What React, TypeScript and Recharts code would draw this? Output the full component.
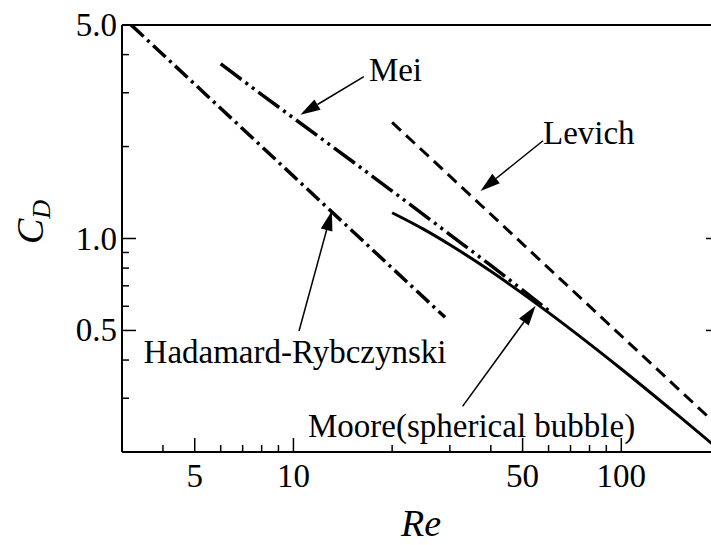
import { ComposedChart, Line, XAxis, YAxis, ReferenceLine } from 'recharts';

// Drag coefficient vs Reynolds number (log-log)
const hrRe = [3.2, 29];
const hrCd = [5.0, 0.552];

const meiRe = [6, 8, 10, 15, 20, 30, 40, 50, 60];
const meiCd = [3.73, 2.96, 2.48, 1.8, 1.43, 1.03, 0.816, 0.678, 0.581];

const levichRe = [20, 200];
const levichCd = [2.4, 0.24];

const mooreRe = [20, 25, 30, 40, 50, 60, 80, 100, 150, 200];
const mooreCd = [1.214, 1.071, 0.954, 0.781, 0.66, 0.572, 0.452, 0.374, 0.262, 0.2025];

const xTicks = [4, 5, 6, 7, 8, 9, 10, 20, 30, 40, 50, 60, 70, 80, 90, 100, 200];
const xMajor = [5, 10, 50, 100];
const xLabels = ['5', '10', '50', '100'];

const yTicks = [0.3, 0.4, 0.5, 0.6, 0.7, 0.8, 0.9, 1, 2, 3, 4, 5];
const yMajor = [0.5, 1, 5];
const yLabels = ['0.5', '1.0', '5.0'];

// arrow tail -> tip, in (Re, C_D)
const arrows = [
  { name: 'Mei', tail: [16.4, 3.39], tip: [10.5, 2.54] },
  { name: 'Levich', tail: [57.7, 2.09], tip: [37.2, 1.43] },
  { name: 'Hadamard-Rybczynski', tail: [10.4, 0.498], tip: [13.1, 1.233] },
  { name: 'Moore(spherical bubble)', tail: [32.8, 0.282], tip: [54.8, 0.602] },
];

const toRows = (xs: number[], ys: number[]) => xs.map((re, i) => ({ re, cd: ys[i] }));

const FONT = '"Liberation Serif", "Times New Roman", serif';
const FS = 33;
const TITLE_FS = 38;

// where each label sits relative to the arrow tail
const labelPos: Record<string, { dx: number; dy: number; anchor: string }> = {
  Mei: { dx: 5, dy: 4, anchor: 'start' },
  Levich: { dx: 0, dy: 3, anchor: 'start' },
  'Hadamard-Rybczynski': { dx: -4, dy: 32, anchor: 'middle' },
  'Moore(spherical bubble)': { dx: 9, dy: 31, anchor: 'middle' },
};

const makeArrow = (name: string) => (p: any) => {
  const { x1, y1, x2, y2 } = p;
  const ang = Math.atan2(y2 - y1, x2 - x1);
  const len = 20;
  const hw = 6;
  const bx = x2 - len * Math.cos(ang);
  const by = y2 - len * Math.sin(ang);
  const nx = -Math.sin(ang) * hw;
  const ny = Math.cos(ang) * hw;
  const lp = labelPos[name];
  return (
    <g>
      <line x1={x1} y1={y1} x2={bx} y2={by} stroke="#000" strokeWidth={1.5} />
      <polygon points={`${x2},${y2} ${bx + nx},${by + ny} ${bx - nx},${by - ny}`} fill="#000" />
      <text x={x1 + lp.dx} y={y1 + lp.dy} textAnchor={lp.anchor as any} fontFamily={FONT} fontSize={FS} fill="#000">
        {name}
      </text>
    </g>
  );
};

const BottomTick = ({ x, y, payload }: any) => {
  const i = xMajor.indexOf(payload.value);
  const len = i >= 0 ? 14 : 7;
  return (
    <g>
      <line x1={x} y1={y} x2={x} y2={y - len} stroke="#000" strokeWidth={1.5} />
      {i >= 0 && (
        <text x={x} y={y + 35} textAnchor="middle" fontFamily={FONT} fontSize={FS} fill="#000">
          {xLabels[i]}
        </text>
      )}
    </g>
  );
};

const TopTick = ({ x, y, payload }: any) => {
  const len = xMajor.includes(payload.value) ? 14 : 7;
  return <line x1={x} y1={y} x2={x} y2={y + len} stroke="#000" strokeWidth={1.5} />;
};

const LeftTick = ({ x, y, payload }: any) => {
  const i = yMajor.indexOf(payload.value);
  const len = i >= 0 ? 14 : 7;
  return (
    <g>
      <line x1={x} y1={y} x2={x + len} y2={y} stroke="#000" strokeWidth={1.5} />
      {i >= 0 && (
        <text x={x - 5} y={y + 11} textAnchor="end" fontFamily={FONT} fontSize={FS} fill="#000">
          {yLabels[i]}
        </text>
      )}
    </g>
  );
};

const RightTick = ({ x, y, payload }: any) => {
  const len = yMajor.includes(payload.value) ? 14 : 7;
  return <line x1={x} y1={y} x2={x - len} y2={y} stroke="#000" strokeWidth={1.5} />;
};

const axisLine = { stroke: '#000', strokeWidth: 2 };

export default function App() {
  return (
    <div style={{ position: 'fixed', left: 0, top: 0, width: 711, height: 545, overflow: 'hidden', background: '#fff' }}>
      <ComposedChart width={800} height={545} margin={{ top: 20, right: 20, bottom: 63, left: 62 }}>
        <XAxis
          dataKey="re"
          type="number"
          scale="log"
          domain={[3, 200]}
          allowDataOverflow
          ticks={xTicks}
          interval={0}
          height={30}
          tickSize={0}
          tickMargin={0}
          tickLine={false}
          axisLine={axisLine}
          tick={<BottomTick />}
          label={{
            content: () => (
              <text x={421} y={536} textAnchor="middle" fontFamily={FONT} fontSize={TITLE_FS} fontStyle="italic" fill="#000">
                Re
              </text>
            ),
          }}
        />
        <XAxis
          xAxisId="top"
          orientation="top"
          type="number"
          scale="log"
          domain={[3, 200]}
          allowDataOverflow
          ticks={xTicks}
          interval={0}
          height={5}
          tickSize={0}
          tickMargin={0}
          tickLine={false}
          axisLine={axisLine}
          tick={<TopTick />}
        />
        <YAxis
          type="number"
          scale="log"
          domain={[0.2, 5]}
          allowDataOverflow
          ticks={yTicks}
          interval={0}
          width={60}
          tickSize={0}
          tickMargin={0}
          tickLine={false}
          axisLine={axisLine}
          tick={<LeftTick />}
          label={{
            content: () => (
              <text
                transform="rotate(-90)"
                x={-244}
                y={43}
                textAnchor="start"
                fontFamily={FONT}
                fontSize={TITLE_FS}
                fontStyle="italic"
                fill="#000"
              >
                C<tspan fontSize={26} dy={7}>D</tspan>
              </text>
            ),
          }}
        />
        <YAxis
          yAxisId="right"
          orientation="right"
          type="number"
          scale="log"
          domain={[0.2, 5]}
          allowDataOverflow
          ticks={yTicks}
          interval={0}
          width={60}
          tickSize={0}
          tickMargin={0}
          tickLine={false}
          axisLine={axisLine}
          tick={<RightTick />}
        />

        <Line
          data={toRows(hrRe, hrCd)}
          dataKey="cd"
          type="linear"
          stroke="#000"
          strokeWidth={3.5}
          strokeDasharray="17 5 3 5"
          dot={false}
          isAnimationActive={false}
        />
        <Line
          data={toRows(meiRe, meiCd)}
          dataKey="cd"
          type="monotone"
          stroke="#000"
          strokeWidth={3.5}
          strokeDasharray="26 5 3 5 3 5"
          dot={false}
          isAnimationActive={false}
        />
        <Line
          data={toRows(levichRe, levichCd)}
          dataKey="cd"
          type="linear"
          stroke="#000"
          strokeWidth={3}
          strokeDasharray="12 7"
          dot={false}
          isAnimationActive={false}
        />
        <Line
          data={toRows(mooreRe, mooreCd)}
          dataKey="cd"
          type="monotone"
          stroke="#000"
          strokeWidth={3}
          dot={false}
          isAnimationActive={false}
        />

        {arrows.map((a) => (
          <ReferenceLine
            key={a.name}
            segment={[
              { x: a.tail[0], y: a.tail[1] },
              { x: a.tip[0], y: a.tip[1] },
            ]}
            ifOverflow="visible"
            shape={makeArrow(a.name)}
          />
        ))}
      </ComposedChart>
    </div>
  );
}
